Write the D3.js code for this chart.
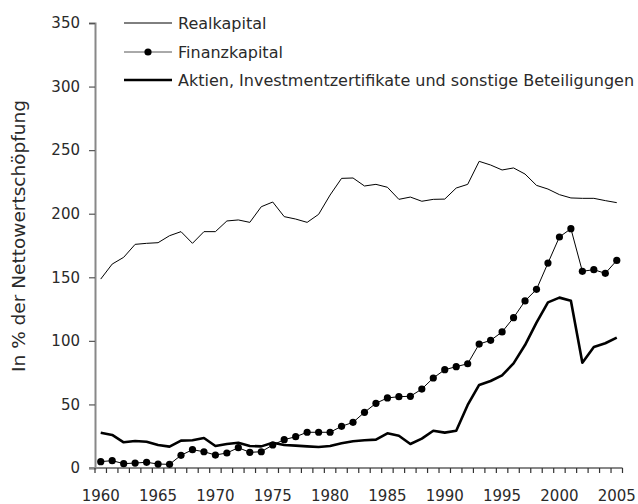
<!DOCTYPE html>
<html>
<head>
<meta charset="utf-8">
<script src="https://cdn.jsdelivr.net/npm/d3@7"></script>
<style>
  body { margin: 0; background: #fff; }
  svg text { font-family: "DejaVu Sans", sans-serif; fill: #2a2a2a; }
</style>
</head>
<body>
<div id="chart"></div>
<script>
// years 1960..2005, values in % der Nettowertschöpfung
const years = d3.range(1960, 2006);
const realkapital = [148.6, 160.4, 165.7, 175.9, 176.7, 177.2, 182.7, 185.9, 176.7, 185.9,
  185.9, 194.3, 195.1, 193.2, 205.5, 209.2, 197.7, 195.8, 193.2, 199.5,
  214.7, 227.8, 228.1, 221.8, 223.1, 220.8, 211.3, 213.1, 209.8, 211.3,
  211.5, 220.2, 223.1, 241.2, 238.3, 234.4, 236, 231.2, 222.3, 219.4,
  215, 212.4, 212.1, 212.1, 210.3, 208.7];
const finanzkapital = [5.0, 5.8, 3.4, 3.9, 4.5, 3.1, 2.9, 10, 14.4, 12.8,
  10.2, 11.8, 16, 12.3, 12.8, 18.1, 22.3, 24.6, 28.1, 28.1,
  28.1, 32.8, 35.9, 43.8, 50.9, 55.1, 56.1, 56.4, 62.1, 70.8,
  77.3, 79.7, 82.0, 97.5, 100.4, 107, 118.2, 131.4, 140.5, 161.2,
  181.7, 188.2, 154.7, 156, 153.1, 163.3];
const aktien = [27.8, 26, 20.2, 21.2, 20.7, 18.1, 16.8, 21.5, 21.8, 23.6,
  17.3, 18.9, 19.9, 17.3, 17.0, 19.9, 18.1, 17.6, 17.0, 16.5,
  17.3, 19.4, 21, 21.8, 22.3, 27.3, 25.4, 18.9, 23.1, 29.3,
  27.8, 29.3, 49.6, 65.3, 68.4, 72.9, 82.3, 96.7, 114.3, 130.3,
  134, 131.6, 82.8, 95.2, 98.1, 102.5];
const yTicks = [0, 50, 100, 150, 200, 250, 300, 350];
const xLabels = [1960, 1965, 1970, 1975, 1980, 1985, 1990, 1995, 2000, 2005];
const legendNames = ["Realkapital", "Finanzkapital", "Aktien, Investmentzertifikate und sonstige Beteiligungen"];

const W = 638, H = 504;
const margin = {top: 23, right: 15.5, bottom: 36, left: 95};

const svg = d3.select("#chart").append("svg")
  .attr("width", W)
  .attr("height", H);

const x = d3.scaleBand()
  .domain(years)
  .range([margin.left, W - margin.right]);
const y = d3.scaleLinear()
  .domain([0, 350])
  .range([H - margin.bottom, margin.top]);
const cx = d => x(d) + x.bandwidth() / 2;

// y axis
const yAxis = svg.append("g")
  .attr("transform", `translate(${margin.left},0)`)
  .call(d3.axisLeft(y).tickValues(yTicks).tickSize(6).tickPadding(9));
yAxis.select(".domain").attr("stroke", "#888").attr("stroke-width", 2);
yAxis.selectAll(".tick line").attr("stroke", "#555").attr("stroke-width", 1.2);
yAxis.selectAll(".tick text").style("font-size", "15px").attr("fill", "#2a2a2a");

// x axis, ticks between the years
const xAxisG = svg.append("g")
  .attr("transform", `translate(0,${y(0)})`);
xAxisG.append("line")
  .attr("x1", margin.left - 6).attr("x2", W - margin.right)
  .attr("stroke", "#888").attr("stroke-width", 2);
xAxisG.selectAll(".xt")
  .data(years.concat([2006]))
  .enter().append("line")
  .attr("x1", d => d === 2006 ? x(2005) + x.bandwidth() : x(d))
  .attr("x2", d => d === 2006 ? x(2005) + x.bandwidth() : x(d))
  .attr("y1", 0).attr("y2", 5)
  .attr("stroke", "#333").attr("stroke-width", 1.2);
xAxisG.selectAll(".xl")
  .data(xLabels)
  .enter().append("text")
  .attr("x", d => cx(d))
  .attr("y", 33)
  .attr("text-anchor", "middle")
  .style("font-size", "15px")
  .text(d => d);

// y axis title
svg.append("text")
  .attr("transform", `translate(25,${(97 + 375) / 2}) rotate(-90)`)
  .attr("text-anchor", "middle")
  .style("font-size", "18.5px")
  .text("In % der Nettowertschöpfung");

const line = d3.line()
  .x((d, i) => cx(years[i]))
  .y(d => y(d));

svg.append("path").datum(realkapital)
  .attr("d", line)
  .attr("fill", "none").attr("stroke", "#000").attr("stroke-width", 1);

svg.append("path").datum(aktien)
  .attr("d", line)
  .attr("fill", "none").attr("stroke", "#000").attr("stroke-width", 2.6)
  .attr("stroke-linejoin", "round");

svg.append("path").datum(finanzkapital)
  .attr("d", line)
  .attr("fill", "none").attr("stroke", "#000").attr("stroke-width", 1);
svg.append("g").selectAll("circle")
  .data(finanzkapital)
  .enter().append("circle")
  .attr("cx", (d, i) => cx(years[i]))
  .attr("cy", d => y(d))
  .attr("r", 3.6)
  .attr("fill", "#000");

// legend
const legend = svg.append("g");
const rowY = [23, 52, 80];
legendNames.forEach((name, i) => {
  const g = legend.append("g").attr("transform", `translate(124,${rowY[i]})`);
  g.append("line")
    .attr("x1", 0).attr("x2", 48)
    .attr("stroke", i === 1 ? "#555" : "#000")
    .attr("stroke-width", i === 2 ? 2.6 : 1);
  if (i === 1) g.append("circle").attr("cx", 24).attr("r", 3.6).attr("fill", "#000");
  g.append("text")
    .attr("x", 54).attr("dy", "0.35em")
    .style("font-size", "16px")
    .text(name);
});
</script>
</body>
</html>
